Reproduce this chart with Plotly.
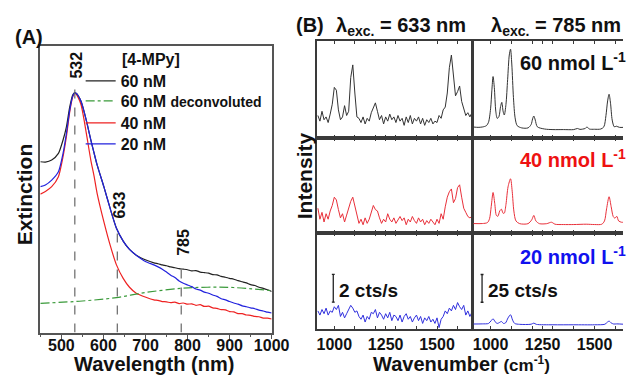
import plotly.graph_objects as go

W, H = 641, 375
FONT = "Liberation Sans, Arial, sans-serif"

# ---------------- Panel A data (UV-vis extinction) ----------------
wl = [450, 462, 477, 493, 504, 512, 520, 527, 532, 535, 539, 547, 554, 562, 570, 578, 585,
      601, 616, 631, 647, 662, 678, 701, 720,
      730, 740, 750, 760, 770, 780, 790, 800, 810, 820, 830, 840, 850, 860, 870, 880, 890,
      900, 910, 920, 930, 940, 950, 960, 970, 980, 990, 1000]
ext_60 = [0.596, 0.595, 0.602, 0.625, 0.672, 0.718, 0.788, 0.829, 0.837, 0.835, 0.829, 0.806,
          0.771, 0.724, 0.672, 0.625, 0.585, 0.509, 0.433, 0.364, 0.319, 0.290, 0.270, 0.253, 0.243,
          0.240, 0.236, 0.233, 0.229, 0.226, 0.223, 0.221, 0.219, 0.215, 0.216, 0.211, 0.209, 0.207,
          0.202, 0.201, 0.196, 0.193, 0.189, 0.186, 0.181, 0.177, 0.173, 0.167, 0.164, 0.158, 0.154,
          0.149, 0.143]
ext_40 = [0.483, 0.492, 0.509, 0.544, 0.614, 0.684, 0.771, 0.823, 0.835, 0.832, 0.823, 0.794,
          0.742, 0.672, 0.602, 0.544, 0.486, 0.387, 0.305, 0.236, 0.189, 0.158, 0.137, 0.123, 0.114,
          0.112, 0.108, 0.107, 0.104, 0.106, 0.101, 0.103, 0.099, 0.100, 0.095, 0.097, 0.091, 0.092,
          0.086, 0.084, 0.080, 0.079, 0.073, 0.072, 0.066, 0.066, 0.061, 0.060, 0.056, 0.055, 0.050,
          0.050, 0.047]
ext_20 = [0.509, 0.515, 0.532, 0.561, 0.625, 0.695, 0.777, 0.825, 0.837, 0.835, 0.829, 0.806,
          0.771, 0.724, 0.672, 0.625, 0.585, 0.509, 0.433, 0.364, 0.319, 0.290, 0.270, 0.247, 0.236,
          0.229, 0.221, 0.211, 0.200, 0.192, 0.180, 0.172, 0.166, 0.160, 0.152, 0.148, 0.141, 0.137,
          0.131, 0.126, 0.118, 0.114, 0.108, 0.103, 0.099, 0.093, 0.090, 0.086, 0.083, 0.078, 0.075,
          0.071, 0.068]
wl_deconv = [450, 550, 631, 701, 785, 847, 909, 1000]
ext_deconv = [0.102, 0.110, 0.122, 0.140, 0.154, 0.158, 0.157, 0.146]

exc_wl = [532, 633, 785]
exc_line_top = [0.880, 0.375, 0.230]
exc_label_y = [0.935, 0.445, 0.314]

# ---------------- Panel B data (SERS spectra) ----------------
wn = list(range(920, 1671, 10))
s633_60 = [1.6, 1.2, 1.9, 1.3, 1.5, 1.1, 1.7, 2.4, 3.6, 3.4, 2.0, 1.3, 1.5, 2.3, 1.6, 1.9,
           4.3, 5.2, 3.2, 1.5, 1.4, 1.1, 1.5, 1.0, 1.4, 1.2, 1.8, 2.1, 2.5, 1.9, 1.3, 1.6,
           1.0, 1.5, 1.2, 1.7, 1.3, 1.5, 1.1, 1.6, 1.2, 1.4, 0.9, 1.5, 1.1, 1.6, 1.0, 1.4,
           1.2, 1.5, 1.0, 1.4, 0.9, 1.3, 1.1, 1.4, 1.0, 1.2, 1.1, 1.6, 1.4, 2.0, 2.2, 3.2,
           5.0, 5.9, 4.5, 3.0, 3.3, 3.7, 2.6, 2.0, 1.6, 1.8, 1.5, 1.8]
s633_40 = [1.8, 1.0, 1.5, 0.8, 1.4, 1.0, 1.6, 2.0, 2.6, 2.4, 1.7, 1.1, 1.4, 0.8, 1.3, 1.8,
           2.3, 2.6, 2.0, 1.2, 0.7, 1.0, 0.6, 1.1, 0.7, 1.0, 1.5, 2.0, 1.7, 1.6, 1.1, 0.7,
           1.0, 0.8, 1.4, 1.0, 0.8, 1.1, 0.7, 1.0, 1.2, 0.9, 1.1, 0.6, 1.0, 0.8, 1.2, 0.9,
           0.7, 1.1, 0.8, 1.0, 0.6, 0.9, 0.7, 1.0, 0.8, 0.6, 1.0, 0.7, 1.4, 1.0, 1.9, 2.6,
           3.0, 3.2, 2.2, 2.5, 3.3, 3.5, 2.6, 1.8, 1.5, 1.2, 1.1, 1.2]
s633_20 = [1.3, 1.0, 1.4, 1.1, 1.5, 1.0, 1.3, 1.2, 1.6, 1.4, 1.7, 0.9, 1.2, 0.8, 1.1, 1.4,
           1.7, 1.5, 1.2, 1.3, 0.9, 0.7, 1.0, 0.5, 0.9, 0.7, 1.2, 1.1, 1.4, 0.8, 1.2, 1.0,
           0.7, 1.1, 0.8, 1.2, 0.6, 1.0, 0.9, 0.6, 1.0, 0.5, 0.9, 1.1, 0.7, 0.9, 0.5, 0.8,
           1.0, 0.6, 0.9, 0.4, 0.8, 0.6, 0.9, 0.5, 0.7, 0.4, 0.8, 0.1, 0.7, 0.9, 1.3, 1.1,
           1.5, 1.3, 1.7, 1.4, 1.9, 1.6, 1.4, 1.7, 1.0, 1.3, 0.9, 1.2]

wn785_60 = [917, 940, 960, 980, 990, 1000, 1006, 1012, 1018, 1025, 1032, 1040, 1048, 1054, 1060,
            1066, 1074, 1082, 1090, 1096, 1102, 1110, 1118, 1128, 1150, 1180, 1195, 1202, 1208,
            1215, 1225, 1260, 1300, 1350, 1400, 1418, 1430, 1455, 1464, 1475, 1500, 1530, 1545,
            1555, 1563, 1570, 1577, 1585, 1595, 1605, 1620, 1640]
s785_60 = [9.8, 9.5, 9.8, 11, 14, 26, 42, 54.8, 45, 24, 17.5, 19, 28, 31.8, 24, 20.5, 30, 52, 74,
           79.2, 66, 36, 18, 11, 9, 9, 12, 17, 19.6, 16, 10, 8, 7.5, 7.5, 7.5, 8.5, 7.7, 8.5, 9.8,
           8, 7.8, 8, 10, 20, 33, 39, 31, 16, 10, 10.5, 9.5, 9.5]
wn785_40 = [917, 960, 985, 995, 1003, 1012, 1020, 1028, 1035, 1044, 1052, 1060, 1066, 1074, 1084,
            1096, 1104, 1112, 1122, 1140, 1180, 1198, 1208, 1218, 1235, 1270, 1293, 1310, 1350,
            1400, 1460, 1500, 1535, 1548, 1558, 1570, 1580, 1590, 1598, 1607, 1616, 1630, 1640]
s785_40 = [8.6, 8.6, 9.5, 13, 24, 36.9, 27, 16, 15.2, 20, 21.7, 18, 18.1, 26, 42, 49.4, 38, 20,
           11, 8.5, 8.5, 12, 16, 11, 8.5, 8.5, 9.8, 8, 7.7, 7.7, 8, 7.7, 8, 11, 22, 33, 24, 15,
           13.5, 15.2, 11, 9.8, 9.8]
wn785_20 = [917, 960, 990, 1003, 1012, 1022, 1032, 1044, 1052, 1062, 1072, 1084, 1096, 1106, 1116,
            1140, 1195, 1208, 1220, 1300, 1400, 1500, 1550, 1562, 1570, 1580, 1592, 1607, 1640]
s785_20 = [4.5, 4.6, 5, 7.5, 9.2, 6.5, 5, 6, 6.8, 5, 5.5, 10, 12.8, 8, 5, 4.2, 4.3, 5.3, 4.2,
           3.8, 3.8, 3.8, 4.3, 6.2, 7.1, 5.5, 4.5, 4.6, 4.3]

wn_ticks = [1000, 1250, 1500]
wn_minor_ticks = [1100, 1200, 1300, 1400, 1600]

scale_633 = 2     # cts/s
scale_785 = 25    # cts/s

# ---------------- figure ----------------
fig = go.Figure()
AX = "#555555"
BX = "#3a3a3a"

def px_x(p):
    return p / W

def px_y(p):
    return 1 - p / H

# Panel A traces (drawn red, black, blue so blue lies on top like the original)
fig.add_trace(go.Scatter(x=wl, y=ext_40, mode="lines", name="40 nM", legend="legend3",
                         line=dict(color="#ee2222", width=1.2, shape="spline", smoothing=0.6),
                         xaxis="x", yaxis="y"))
fig.add_trace(go.Scatter(x=wl, y=ext_60, mode="lines", name="60 nM", legend="legend",
                         line=dict(color="#222222", width=1.2, shape="spline", smoothing=0.6),
                         xaxis="x", yaxis="y"))
fig.add_trace(go.Scatter(x=wl_deconv, y=ext_deconv, mode="lines",
                         name="60 nM <span style='font-size:14px'>deconvoluted</span>", legend="legend2",
                         line=dict(color="#3a9a3a", width=1.2, dash="dashdot", shape="spline"),
                         xaxis="x", yaxis="y"))
fig.add_trace(go.Scatter(x=wl, y=ext_20, mode="lines", name="20 nM", legend="legend4",
                         line=dict(color="#2222dd", width=1.2, shape="spline", smoothing=0.6),
                         xaxis="x", yaxis="y"))
for w, top in zip(exc_wl, exc_line_top):
    fig.add_trace(go.Scatter(x=[w, w], y=[0, top], mode="lines", showlegend=False,
                             line=dict(color="#666666", width=1.2, dash="dash"),
                             xaxis="x", yaxis="y"))

# Panel B traces
rows_y = [(41, 138), (138, 233), (233, 329)]
cols_x = [(326, 486), (487, 641)]
x_ranges = [[915, 1672], [917, 1637]]
y_ranges = [[0, 6.9], [0, 86.5]]

left_series = [(s633_60, "#333333"), (s633_40, "#e8303a"), (s633_20, "#3030dd")]
right_series = [(wn785_60, s785_60, "#333333"), (wn785_40, s785_40, "#e8303a"),
                (wn785_20, s785_20, "#3030dd")]

layout_axes = {}
ax_idx = 2
axmap = {}
for c in range(2):
    for r in range(3):
        xa = "x%d" % ax_idx
        ya = "y%d" % ax_idx
        axmap[(c, r)] = (xa, ya)
        if c == 0:
            ys, col = left_series[r]
            fig.add_trace(go.Scatter(x=wn, y=ys, mode="lines", showlegend=False,
                                     line=dict(color=col, width=1), xaxis=xa, yaxis=ya))
        else:
            xs, ys, col = right_series[r]
            fig.add_trace(go.Scatter(x=xs, y=ys, mode="lines", showlegend=False,
                                     line=dict(color=col, width=1, shape="spline", smoothing=0.8),
                                     xaxis=xa, yaxis=ya))
        bottom = (r == 2)
        layout_axes["xaxis%d" % ax_idx] = dict(
            domain=[px_x(cols_x[c][0]), px_x(cols_x[c][1])], anchor=ya,
            range=x_ranges[c], showgrid=False, zeroline=False,
            showline=True, linecolor=BX, linewidth=1.5, mirror="allticks",
            tickvals=wn_ticks,
            ticks="inside", ticklen=3, tickwidth=1, tickcolor=BX,
            minor=dict(tickvals=wn_minor_ticks, ticks="inside", ticklen=3, tickwidth=1,
                       tickcolor=BX),
            showticklabels=bottom, ticklabelstandoff=0,
            tickfont=dict(family=FONT, size=16, color="#111", weight="bold"))
        layout_axes["yaxis%d" % ax_idx] = dict(
            domain=[px_y(rows_y[r][1]), px_y(rows_y[r][0])], anchor=xa,
            range=y_ranges[c], showgrid=False, zeroline=False, showticklabels=False,
            ticks="", showline=True, linecolor=BX, linewidth=1.5, mirror=(c == 0))
        ax_idx += 1

# scale bars
sb = [(0, 995, 1.93, scale_633, 7), (1, 959, 24.1, scale_785, 7)]
for c, bx, lo, size, cap in sb:
    xa, ya = axmap[(c, 2)]
    hi = lo + size
    fig.add_trace(go.Scatter(x=[bx - cap, bx + cap, None, bx, bx, None, bx - cap, bx + cap],
                             y=[lo, lo, None, lo, hi, None, hi, hi], mode="lines",
                             showlegend=False, line=dict(color="#222", width=1.3),
                             xaxis=xa, yaxis=ya))

annotations = []
def ann(text, x, y, size, xanchor="center", yanchor="middle", color="#111", angle=0, xref="paper", yref="paper"):
    annotations.append(dict(text=text, x=x, y=y, xref=xref, yref=yref, showarrow=False,
                            xanchor=xanchor, yanchor=yanchor, textangle=angle,
                            font=dict(family=FONT, size=size, color=color, weight="bold")))

ann("(A)", px_x(13), px_y(37), 20, xanchor="left")
ann("(B)", px_x(302), px_y(25), 20, xanchor="left")
ann("λ<sub>exc.</sub> = 633 nm", px_x(413), px_y(27), 20)
ann("λ<sub>exc.</sub> = 785 nm", px_x(572), px_y(27), 20)
ann("Extinction", px_x(25), px_y(194), 21, angle=-90)
ann("Wavelength (nm)", px_x(158), px_y(364), 20)
ann("Intensity", px_x(313), px_y(176), 21, angle=-90)
ann("Wavenumber <span style='font-size:17px'>(cm<sup>-1</sup>)</span>", px_x(475), px_y(364), 20)
ann("[4-MPy]", px_x(123), px_y(59), 16, xanchor="left")

for w, ly in zip(exc_wl, exc_label_y):
    ann(str(w), w + 5, ly, 16, angle=-90, xref="x", yref="y")

# concentration labels & scale-bar labels
xa, ya = axmap[(1, 0)]
ann("60 nmol L<sup>-1</sup>", 1132, 67.9, 20, xanchor="left", color="#111", xref=xa, yref=ya)
xa, ya = axmap[(1, 1)]
ann("40 nmol L<sup>-1</sup>", 1132, 67.9, 20, xanchor="left", color="#ee1111", xref=xa, yref=ya)
xa, ya = axmap[(1, 2)]
ann("20 nmol L<sup>-1</sup>", 1132, 66.0, 20, xanchor="left", color="#1111ee", xref=xa, yref=ya)
ann("25 cts/s", 978, 34.8, 19, xanchor="left", xref=xa, yref=ya)
xa, ya = axmap[(0, 2)]
ann("2 cts/s", 1013, 2.79, 19, xanchor="left", xref=xa, yref=ya)

legend_rows = [64, 84, 106, 127]
legends = {}
for i, top in enumerate(legend_rows):
    key = "legend" if i == 0 else "legend%d" % (i + 1)
    legends[key] = dict(x=px_x(83), y=px_y(top), xanchor="left", yanchor="top",
                        bgcolor="rgba(0,0,0,0)",
                        font=dict(family=FONT, size=16, color="#111", weight="bold"),
                        itemwidth=30)

fig.update_layout(
    width=W, height=H, margin=dict(l=0, r=0, t=0, b=0),
    paper_bgcolor="white", plot_bgcolor="white",
    xaxis=dict(domain=[px_x(41.5), px_x(279.5)], anchor="y", range=[450, 1000],
               tickvals=[500, 600, 700, 800, 900, 1000], ticks="outside", ticklen=5,
               tickwidth=1.3, tickcolor=AX,
               minor=dict(tickvals=[450, 550, 650, 750, 850, 950], ticks="outside", ticklen=3,
                          tickwidth=1.2, tickcolor=AX),
               showline=True, linecolor=AX, linewidth=1.5, mirror=True, showgrid=False,
               zeroline=False, ticklabelstandoff=-7,
               tickfont=dict(family=FONT, size=16, color="#111", weight="bold")),
    yaxis=dict(domain=[px_y(332.5), px_y(46)], anchor="x", range=[0, 1], showticklabels=False,
               ticks="", showline=True, linecolor=AX, linewidth=1.5, mirror=True,
               showgrid=False, zeroline=False),
    annotations=annotations,
    **legends,
    **layout_axes,
)

fig.write_html("out.html", config={"displayModeBar": False},
               post_script="document.body.style.margin='0px';document.body.style.overflow='hidden';")
